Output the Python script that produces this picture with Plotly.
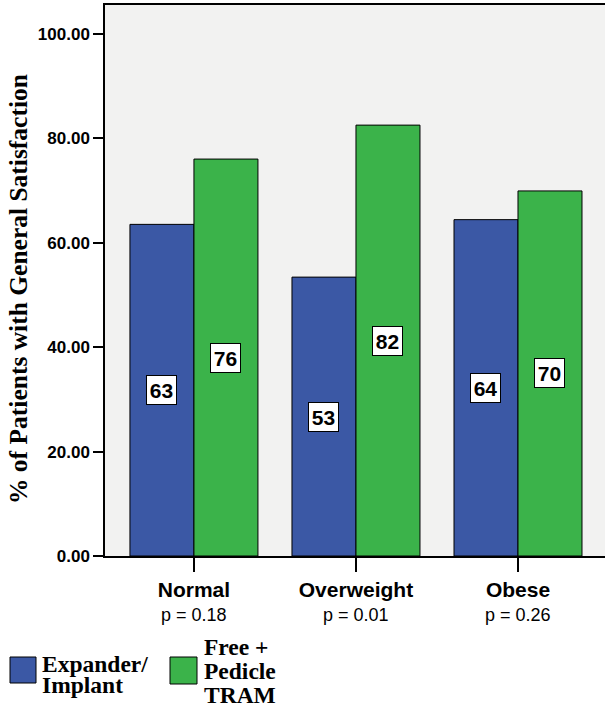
import plotly.graph_objects as go

categories = ["Normal", "Overweight", "Obese"]
p_values = ["p = 0.18", "p = 0.01", "p = 0.26"]
series_names = ["Expander/Implant", "Free + Pedicle TRAM"]
legend_lines = [["Expander/", "Implant"], ["Free +", "Pedicle", "TRAM"]]
expander_implant = [63.5, 53.4, 64.4]
free_pedicle_tram = [76.0, 82.5, 69.9]
bar_labels_expander = ["63", "53", "64"]
bar_labels_tram = ["76", "82", "70"]
y_ticks = [0, 20, 40, 60, 80, 100]

BLUE = "#3b58a5"
GREEN = "#3bb34a"

# plot area geometry in pixels
L, T, W, Hp = 105, 5, 500, 551
BOTTOM = T + Hp


def px_x(x):
    return (x - L) / W


def px_y(y):
    return (BOTTOM - y) / Hp


fig = go.Figure()
fig.add_trace(go.Bar(x=categories, y=expander_implant, name=series_names[0],
                     marker=dict(color=BLUE, line=dict(color="black", width=1))))
fig.add_trace(go.Bar(x=categories, y=free_pedicle_tram, name=series_names[1],
                     marker=dict(color=GREEN, line=dict(color="black", width=1))))

annotations = []
for labels, vals, shift in [(bar_labels_expander, expander_implant, -32),
                            (bar_labels_tram, free_pedicle_tram, 32)]:
    for c, v, t in zip(categories, vals, labels):
        annotations.append(dict(x=c, y=v / 2, xref="x", yref="y", text=f"<b>{t}</b>",
                                xshift=shift, showarrow=False, width=29, height=28,
                                xanchor="center", yanchor="middle",
                                bgcolor="white", bordercolor="black", borderwidth=1,
                                borderpad=0,
                                font=dict(family="Liberation Sans", size=21, color="black")))

# y-axis title
annotations.append(dict(x=px_x(18), y=px_y(289), xref="paper", yref="paper",
                        text="<b>% of Patients with General Satisfaction</b>",
                        showarrow=False, textangle=-90, xanchor="center", yanchor="middle",
                        font=dict(family="Liberation Serif", size=25.5, color="black")))

# p-values below categories
for c, p in zip(categories, p_values):
    annotations.append(dict(x=c, y=0, xref="x", yref="paper", text=p, showarrow=False,
                            xanchor="center", yanchor="middle", yshift=-59,
                            font=dict(family="Liberation Sans", size=18, color="black")))

fig.update_layout(
    width=605, height=709,
    margin=dict(l=L, r=0, t=T, b=709 - BOTTOM),
    paper_bgcolor="white", plot_bgcolor="#f2f2f1",
    barmode="group", bargap=0.21, bargroupgap=0,
    showlegend=False,
    xaxis=dict(range=[-0.549, 2.537], showline=True, linecolor="black", linewidth=1.5,
               mirror=True, ticks="outside", ticklen=14, tickcolor="black", tickwidth=1.5,
               tickfont=dict(family="Liberation Sans", size=21, color="black"),
               tickvals=categories, ticktext=[f"<b>{c}</b>" for c in categories],
               showgrid=False, zeroline=False),
    yaxis=dict(range=[0, 105.5], showline=True, linecolor="black", linewidth=1.5,
               ticks="outside", ticklen=10, tickcolor="black", tickwidth=1.5,
               tickvals=y_ticks, ticktext=[f"<b>{v:.2f}</b>" for v in y_ticks],
               tickfont=dict(family="Liberation Sans", size=17, color="black"),
               showgrid=False, zeroline=False),
    annotations=annotations,
)

# manual legend (large swatches)
legend_geom = [
    (BLUE, 10, 36, 657, 683, 40, [664, 685], 23.5),
    (GREEN, 170, 197, 657, 684, 202, [647, 671, 695], 23.5),
]
for (color, x0, x1, y0, y1, tx, ys, fs), lines in zip(legend_geom, legend_lines):
    fig.add_shape(type="rect", xref="paper", yref="paper",
                  x0=px_x(x0), x1=px_x(x1), y0=px_y(y1), y1=px_y(y0),
                  fillcolor=color, line=dict(color="black", width=1))
    for line, ly in zip(lines, ys):
        fig.add_annotation(x=px_x(tx), y=px_y(ly), xref="paper", yref="paper",
                           text=f"<b>{line}</b>", showarrow=False, xanchor="left", yanchor="middle",
                           font=dict(family="Liberation Serif", size=fs, color="black"))

fig.write_html("out.html", config={"displayModeBar": False},
               post_script="document.body.style.margin='0';document.body.style.padding='0';")
